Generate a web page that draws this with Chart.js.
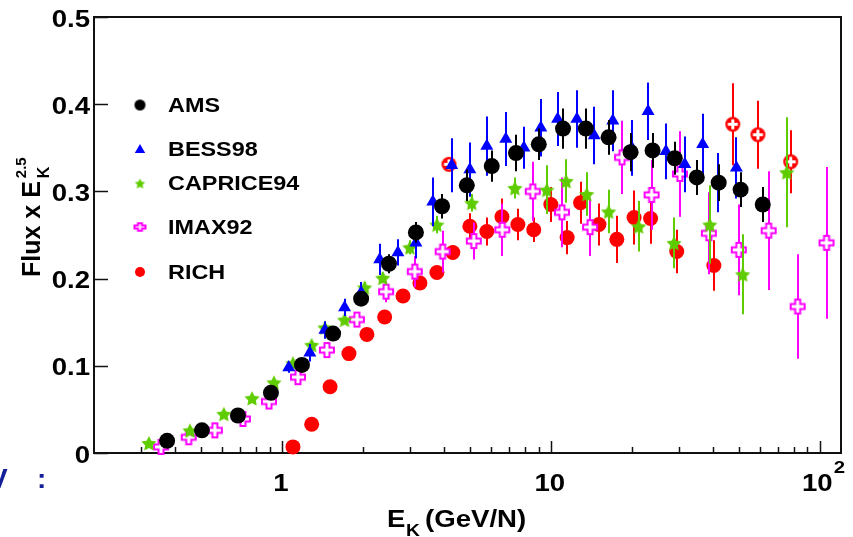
<!DOCTYPE html>
<html>
<head>
<meta charset="utf-8">
<script src="https://cdn.jsdelivr.net/npm/chart.js@4.4.1/dist/chart.umd.min.js"></script>
<style>
html,body{margin:0;padding:0;background:#fff;}
#wrap{width:853px;height:537px;position:relative;}
</style>
</head>
<body>
<div id="wrap"><canvas id="c"></canvas></div>
<script>
// ---------- data ----------
const amsE   = [0.374,0.504,0.686,0.91,1.187,1.55,1.97,2.5,3.15,3.94,4.87,6.03,7.42,9.02,11.1,13.5,16.4,19.8,23.9,28.9,34.9,42.1,50.8,61.4];
const amsF   = [0.014,0.026,0.043,0.069,0.101,0.137,0.177,0.217,0.253,0.283,0.307,0.329,0.344,0.354,0.372,0.372,0.362,0.345,0.347,0.338,0.316,0.310,0.302,0.285];
const amsErr = [0.002,0.002,0.002,0.003,0.003,0.004,0.008,0.011,0.012,0.014,0.018,0.018,0.021,0.018,0.023,0.023,0.020,0.022,0.020,0.019,0.020,0.021,0.020,0.020];

const bessE   = [1.06,1.27,1.445,1.71,1.97,2.31,2.7,3.15,3.64,4.28,5.0,5.78,6.8,7.94,9.18,10.6,12.5,14.5,17.0,20.0,23.0,26.8,31.5,36.7,42.0,49.0];
const bessF   = [0.098,0.115,0.141,0.167,0.184,0.222,0.230,0.241,0.288,0.330,0.325,0.352,0.360,0.350,0.373,0.383,0.383,0.364,0.381,0.350,0.392,0.346,0.331,0.354,0.310,0.327];
const bessErr = [0.006,0.010,0.010,0.010,0.012,0.018,0.015,0.018,0.028,0.031,0.031,0.034,0.031,0.024,0.033,0.031,0.033,0.033,0.035,0.032,0.033,0.032,0.032,0.035,0.034,0.035];

const capE   = [0.32,0.455,0.608,0.774,0.934,1.099,1.29,1.445,1.71,2.03,2.37,2.99,3.77,5.08,7.35,9.66,11.4,13.6,16.4,21.2,28.7,39.0,51.7,75.4];
const capF   = [0.0115,0.026,0.045,0.063,0.081,0.103,0.124,0.144,0.153,0.190,0.201,0.236,0.262,0.287,0.304,0.302,0.312,0.297,0.277,0.260,0.241,0.262,0.205,0.322];
const capErr = [0.001,0.001,0.002,0.002,0.003,0.003,0.004,0.004,0.005,0.006,0.006,0.008,0.010,0.010,0.012,0.028,0.025,0.025,0.025,0.029,0.029,0.045,0.046,0.063];

const imaxE   = [0.355,0.45,0.563,0.716,0.895,1.147,1.47,1.9,2.44,3.12,3.96,5.17,6.6,8.57,11.0,14.0,18.4,23.7,30.2,38.7,50.0,64.6,82.8,106];
const imaxF   = [0.007,0.018,0.026,0.039,0.059,0.087,0.118,0.153,0.185,0.208,0.231,0.243,0.256,0.300,0.276,0.259,0.339,0.296,0.320,0.252,0.233,0.255,0.168,0.241];
const imaxErr = [0.001,0.002,0.002,0.003,0.004,0.005,0.006,0.008,0.012,0.018,0.024,0.021,0.030,0.034,0.040,0.033,0.042,0.040,0.049,0.047,0.052,0.068,0.060,0.087];

const richE   = [1.099,1.29,1.51,1.775,2.07,2.41,2.82,3.26,3.77,4.32,5.0,5.78,6.58,7.54,8.64,10.0,11.5,12.9,15.1,17.6,20.4,23.5,29.4,40.4];
const richF   = [0.007,0.033,0.076,0.114,0.136,0.156,0.180,0.195,0.207,0.230,0.260,0.254,0.271,0.262,0.256,0.285,0.247,0.287,0.262,0.245,0.270,0.269,0.231,0.215];
const richErr = [0.002,0.002,0.003,0.003,0.004,0.004,0.005,0.006,0.007,0.008,0.015,0.016,0.021,0.018,0.014,0.020,0.019,0.024,0.024,0.027,0.031,0.029,0.025,0.029];

const richHiE   = [4.18,47.5,58.9,78.0];
const richHiF   = [0.331,0.377,0.365,0.334];
const richHiErr = [0.004,0.047,0.039,0.036];

const legendNames = ['AMS','BESS98','CAPRICE94','IMAX92','RICH'];
const yTickVals   = [0,0.1,0.2,0.3,0.4,0.5];
const yTickLabels = ['0','0.1','0.2','0.3','0.4','0.5'];
const xTickVals   = [1,10,100];
const xTickLabels = ['1','10','10'];
const xTickSup    = ['','','2'];

// ---------- marker images ----------
function mk(w,h,fn){const c=document.createElement('canvas');c.width=w;c.height=h;const g=c.getContext('2d');fn(g,w/2,h/2);return c;}
function starImg(r,color){return mk(2*r+4,2*r+4,(g,cx,cy)=>{g.fillStyle=color;g.beginPath();for(let k=0;k<10;k++){const a=-Math.PI/2+k*Math.PI/5;const rr=k%2?r*0.5:r;g.lineTo(cx+rr*Math.cos(a),cy+rr*Math.sin(a)+1);}g.closePath();g.fill();});}
function crossImg(s,a,color,sy){sy=sy||1;return mk(s+4,Math.round(s*sy)+4,(g,cx,cy)=>{const h=s/2,t=a/2;const P=[[-t,-h],[t,-h],[t,-t],[h,-t],[h,t],[t,t],[t,h],[-t,h],[-t,t],[-h,t],[-h,-t],[-t,-t]];g.beginPath();P.forEach(p=>g.lineTo(cx+p[0],cy+p[1]*sy));g.closePath();g.fillStyle='#fff';g.fill();g.strokeStyle=color;g.lineWidth=2;g.stroke();});}
function circCrossImg(r,color){return mk(2*r+4,2*r+4,(g,cx,cy)=>{g.fillStyle=color;g.beginPath();g.arc(cx,cy,r,0,Math.PI*2);g.fill();g.fillStyle='#fff';g.fillRect(cx-1.5,cy-r+2.5,3,2*r-5);g.fillRect(cx-r+2.5,cy-1.5,2*r-5,3);});}
function dotImg(r,color){return mk(2*r+4,2*r+4,(g,cx,cy)=>{g.fillStyle=color;g.beginPath();g.arc(cx,cy,r,0,Math.PI*2);g.fill();});}

const GREEN='#5fcc00', MAG='#ff00ff', RED='#ff0000', BLUE='#0000ff';
const pStar=starImg(8,GREEN), pCross=crossImg(14,5,MAG), pCC=circCrossImg(7.5,RED);

const pts=(E,F)=>E.map((e,i)=>({x:e,y:F[i]}));

const datasets=[
 {label:'AMS',data:pts(amsE,amsF),errors:amsErr,errColor:'#000',pointStyle:'circle',pointRadius:8,backgroundColor:'#000',borderWidth:0},
 {label:'BESS98',data:pts(bessE,bessF),errors:bessErr,errColor:BLUE,pointStyle:'triangle',pointRadius:7.5,backgroundColor:BLUE,borderWidth:0},
 {label:'CAPRICE94',data:pts(capE,capF),errors:capErr,errColor:GREEN,pointStyle:pStar,pointRadius:7,backgroundColor:GREEN,borderWidth:0},
 {label:'IMAX92',data:pts(imaxE,imaxF),errors:imaxErr,errColor:MAG,pointStyle:pCross,pointRadius:7,backgroundColor:MAG,borderWidth:0},
 {label:'RICH',data:pts(richE,richF),errors:richErr,errColor:RED,pointStyle:'circle',pointRadius:7.5,backgroundColor:RED,borderWidth:0},
 {label:'RICH ',data:pts(richHiE,richHiF),errors:richHiErr,errColor:RED,pointStyle:pCC,pointRadius:7,backgroundColor:RED,borderWidth:0}
];
datasets.forEach(d=>{d.showLine=false;d.clip=false;});

const legendMarks=[dotImg(5.5,'#000'),null,starImg(5.5,GREEN),crossImg(11,4,MAG,0.7),dotImg(5,RED)];

// ---------- helpers ----------
const SX=1.2;
function txt(ctx,s,x,y,font,align,color){ctx.save();ctx.font=font;ctx.fillStyle=color||'#000';ctx.textBaseline='alphabetic';const w=ctx.measureText(s).width*SX;const x0=align==='right'?x-w:align==='center'?x-w/2:x;ctx.translate(x0,y);ctx.scale(SX,1);ctx.textAlign='left';ctx.fillText(s,0,0);ctx.restore();return w;}
const FB='bold 23px "Liberation Sans", Arial, sans-serif';

const errPlugin={id:'err',
 beforeDatasetDraw(chart,args){const ds=chart.data.datasets[args.index];if(!ds.errors)return;const ctx=chart.ctx,xs=chart.scales.x,ys=chart.scales.y;ctx.save();ctx.strokeStyle=ds.errColor;ctx.lineWidth=2;ctx.beginPath();ds.data.forEach((p,i)=>{const e=ds.errors[i];const px=Math.round(xs.getPixelForValue(p.x));ctx.moveTo(px,ys.getPixelForValue(p.y-e));ctx.lineTo(px,ys.getPixelForValue(p.y+e));});ctx.stroke();ctx.restore();}};

const framePlugin={id:'frame',
 beforeDatasetsDraw(chart){const ctx=chart.ctx,a=chart.chartArea,xs=chart.scales.x,ys=chart.scales.y;ctx.save();
  ctx.strokeStyle='#111';ctx.lineWidth=2;ctx.strokeRect(a.left,a.top,a.right-a.left,a.bottom-a.top);
  ctx.lineWidth=1.5;ctx.beginPath();
  yTickVals.forEach(v=>{const y=Math.round(ys.getPixelForValue(v))+0.5;ctx.moveTo(a.left,y);ctx.lineTo(a.left+14,y);});
  for(let d=-1;d<=2;d++){for(let m=1;m<=9;m++){const v=m*Math.pow(10,d);if(v<=0.2||v>=120)continue;const x=Math.round(xs.getPixelForValue(v))+0.5;const L=(m===1)?12:6;ctx.moveTo(x,a.bottom);ctx.lineTo(x,a.bottom-L);}}
  ctx.stroke();ctx.restore();},
 afterDraw(chart){const ctx=chart.ctx,a=chart.chartArea,xs=chart.scales.x,ys=chart.scales.y;
  // y tick labels
  yTickVals.forEach((v,i)=>{txt(ctx,yTickLabels[i],90,ys.getPixelForValue(v)+9.5,FB,'right');});
  // x tick labels
  xTickVals.forEach((v,i)=>{const x=xs.getPixelForValue(v);if(xTickSup[i]){txt(ctx,xTickLabels[i],x+13,491,FB,'right');txt(ctx,xTickSup[i],x+14,473,'bold 17px "Liberation Sans", Arial, sans-serif','left');}else{txt(ctx,xTickLabels[i],x-1,491,FB,'center');}});
  // x title
  let w=txt(ctx,'E',387,527,FB,'left');
  txt(ctx,'K',387+w+0.5,536,'bold 16px "Liberation Sans", Arial, sans-serif','left');
  txt(ctx,'(GeV/N)',425,527,FB,'left');
  // y title
  ctx.save();ctx.translate(40,277);ctx.rotate(-Math.PI/2);ctx.fillStyle='#000';
  ctx.font='bold 25px "Liberation Sans", Arial, sans-serif';ctx.textBaseline='alphabetic';ctx.fillText('Flux x E',0,0);
  const tw=ctx.measureText('Flux x E').width;
  ctx.font='bold 16px "Liberation Sans", Arial, sans-serif';ctx.fillText('K',tw+3,9);
  ctx.font='bold 15px "Liberation Sans", Arial, sans-serif';ctx.fillText('2.5',tw+3,-14);
  ctx.restore();
  // legend
  const ly=[105,149,183,227,272];
  legendNames.forEach((n,i)=>{
    const ds=chart.data.datasets[i];
    if(legendMarks[i]){const im=legendMarks[i];ctx.drawImage(im,140-im.width/2,ly[i]-im.height/2);}
    else{ctx.save();ctx.fillStyle=ds.backgroundColor;Chart.helpers.drawPoint(ctx,{pointStyle:'triangle',radius:6,rotation:0},140,ly[i]+1);ctx.restore();}
    txt(ctx,n,168,ly[i]+7,'bold 19.5px "Liberation Sans", Arial, sans-serif','left');
  });
  // stray slide text
  ctx.save();ctx.fillStyle='#14209a';ctx.font='bold 28px "Liberation Sans", Arial, sans-serif';ctx.fillText('V',-11,488);ctx.fillText(':',37,488);ctx.restore();
 }};

new Chart(document.getElementById('c'),{
 type:'scatter',
 data:{datasets},
 options:{responsive:true,maintainAspectRatio:false,animation:false,events:[],
  layout:{padding:{left:94,right:12,top:17,bottom:84}},
  plugins:{legend:{display:false},tooltip:{enabled:false}},
  scales:{
   x:{type:'logarithmic',min:0.2,max:120,display:false},
   y:{type:'linear',min:0,max:0.5,display:false}
  }},
 plugins:[errPlugin,framePlugin]
});
</script>
</body>
</html>
